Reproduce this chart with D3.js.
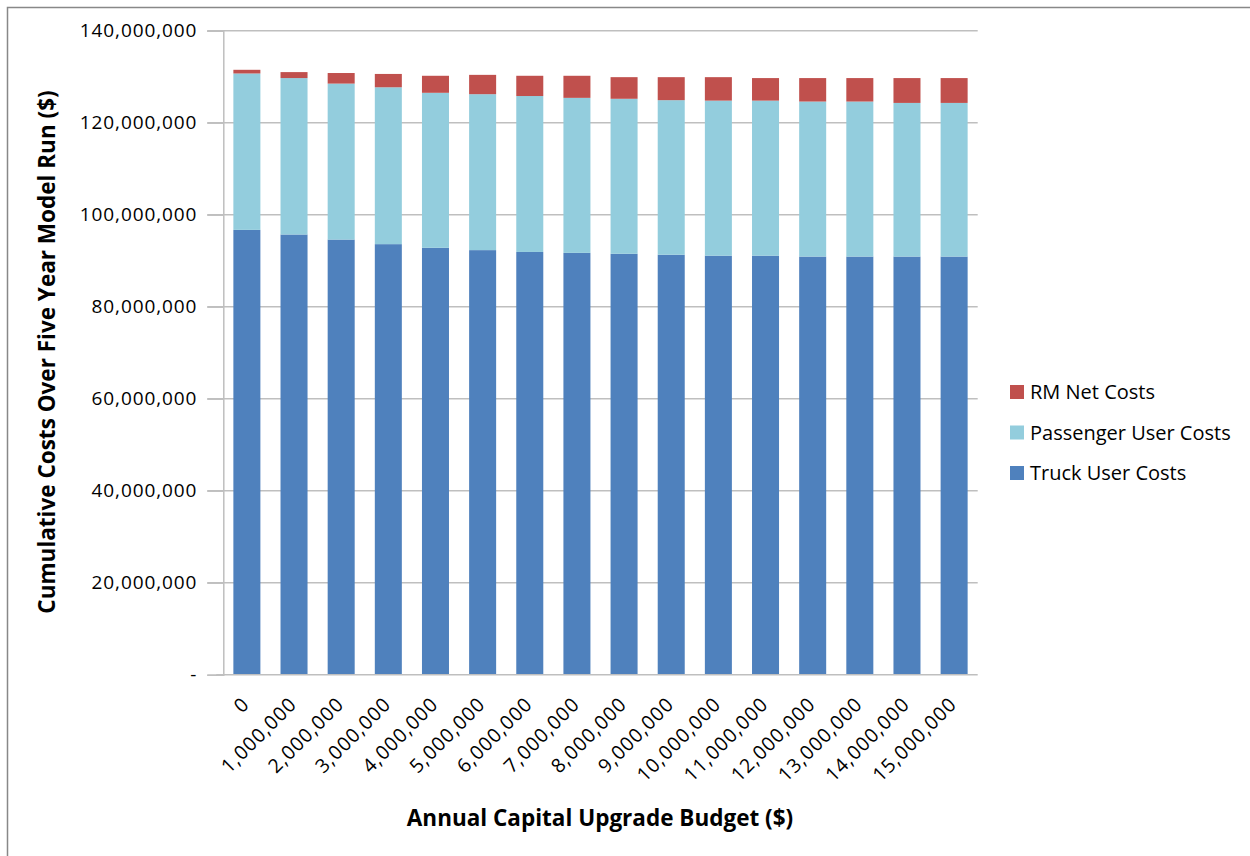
<!DOCTYPE html>
<html>
<head>
<meta charset="utf-8">
<script src="https://cdn.jsdelivr.net/npm/d3@7.9.0/dist/d3.min.js"></script>
<style>
  body { margin: 0; background: #fff; }
  text { font-family: "Open Sans", "Liberation Sans", sans-serif; fill: #000; }
</style>
</head>
<body>
<div id="chart"></div>
<script>
// Data (values in $ millions)
const budgets = [0, 1e6, 2e6, 3e6, 4e6, 5e6, 6e6, 7e6, 8e6, 9e6, 10e6, 11e6, 12e6, 13e6, 14e6, 15e6];
const truckCosts = [96.7, 95.7, 94.6, 93.6, 92.8, 92.3, 91.9, 91.7, 91.5, 91.3, 91.1, 91.1, 90.9, 90.9, 90.9, 90.9];
const passengerCosts = [34.0, 34.0, 33.9, 34.1, 33.7, 33.9, 33.9, 33.7, 33.7, 33.6, 33.7, 33.7, 33.7, 33.7, 33.4, 33.4];
const rmNetCosts = [0.8, 1.3, 2.3, 2.9, 3.7, 4.2, 4.4, 4.8, 4.7, 5.0, 5.1, 4.9, 5.1, 5.1, 5.4, 5.4];
const seriesNames = ["Truck User Costs", "Passenger User Costs", "RM Net Costs"];
const yTicks = [0, 20e6, 40e6, 60e6, 80e6, 100e6, 120e6, 140e6];

const colors = {
  "Truck User Costs": "#4f81bd",
  "Passenger User Costs": "#93cddd",
  "RM Net Costs": "#c0504d"
};

const width = 1250, height = 856;
const plot = { left: 223.3, right: 977.7, top: 30.7, bottom: 674.7 };

const svg = d3.select("#chart").append("svg")
  .attr("width", width)
  .attr("height", height);

// outer frame (top and left edges only visible)
svg.append("path")
  .attr("d", `M7.5,${height} V7.5 H${width}`)
  .attr("fill", "none")
  .attr("stroke", "#888")
  .attr("stroke-width", 1.5);

const rows = budgets.map((b, i) => ({
  budget: b,
  "Truck User Costs": truckCosts[i] * 1e6,
  "Passenger User Costs": passengerCosts[i] * 1e6,
  "RM Net Costs": rmNetCosts[i] * 1e6
}));

const x = d3.scaleBand()
  .domain(budgets)
  .range([plot.left, plot.right])
  .paddingInner(0.427)
  .paddingOuter(0.2135);

const y = d3.scaleLinear()
  .domain([0, 140e6])
  .range([plot.bottom, plot.top]);

const fmt = d3.format(",");

// gridlines
svg.append("g")
  .selectAll("line")
  .data(yTicks.filter(d => d > 0))
  .join("line")
  .attr("x1", plot.left - 16)
  .attr("x2", plot.right)
  .attr("y1", d => y(d))
  .attr("y2", d => y(d))
  .attr("stroke", "#bfbfbf")
  .attr("stroke-width", 1.5);

// y axis
const yAxis = d3.axisLeft(y)
  .tickValues(yTicks)
  .tickSize(16)
  .tickPadding(10)
  .tickFormat(d => d === 0 ? "-" : fmt(d));

const yg = svg.append("g")
  .attr("transform", `translate(${plot.left},0)`)
  .call(yAxis);
yg.select(".domain").attr("stroke", "#bfbfbf").attr("stroke-width", 1.5);
yg.selectAll(".tick line").attr("stroke", "#bfbfbf").attr("stroke-width", 1.5);
yg.selectAll(".tick text")
  .style("font-size", "19px")
  .style("letter-spacing", "0.9px")
  .attr("fill", "#000");
yg.selectAll(".tick").filter(d => d === 0).select("text").attr("x", -26);

// stacked bars
const stack = d3.stack().keys(seriesNames);
const layers = stack(rows);

svg.append("g")
  .selectAll("g")
  .data(layers)
  .join("g")
  .attr("fill", d => colors[d.key])
  .selectAll("rect")
  .data(d => d)
  .join("rect")
  .attr("x", d => x(d.data.budget))
  .attr("width", x.bandwidth())
  .attr("y", d => y(d[1]))
  .attr("height", d => y(d[0]) - y(d[1]));

// x axis baseline
svg.append("line")
  .attr("x1", plot.left - 7)
  .attr("x2", plot.right)
  .attr("y1", plot.bottom)
  .attr("y2", plot.bottom)
  .attr("stroke", "#bfbfbf")
  .attr("stroke-width", 1.5);

// x tick labels, rotated
svg.append("g")
  .selectAll("text")
  .data(budgets)
  .join("text")
  .attr("transform", d => `translate(${x(d) + x.bandwidth() / 2 - 1},${plot.bottom + 26}) rotate(-45)`)
  .attr("text-anchor", "end")
  .attr("dy", "0.35em")
  .style("font-size", "19.5px")
  .style("letter-spacing", "1px")
  .text(d => fmt(d));

// axis titles
svg.append("text")
  .attr("x", 600)
  .attr("y", 826)
  .attr("text-anchor", "middle")
  .style("font-size", "22.5px")
  .style("font-weight", "bold")
  .text("Annual Capital Upgrade Budget ($)");

svg.append("text")
  .attr("transform", `translate(55,352) rotate(-90)`)
  .attr("text-anchor", "middle")
  .style("font-size", "22.5px")
  .style("font-weight", "bold")
  .text("Cumulative Costs Over Five Year Model Run ($)");

// legend
const legendOrder = ["RM Net Costs", "Passenger User Costs", "Truck User Costs"];
const legend = svg.append("g")
  .selectAll("g")
  .data(legendOrder)
  .join("g")
  .attr("transform", (d, i) => `translate(1010,${392 + i * 40.5})`);

legend.append("rect")
  .attr("x", 0)
  .attr("y", -7)
  .attr("width", 14)
  .attr("height", 14)
  .attr("fill", d => colors[d]);

legend.append("text")
  .attr("x", 20)
  .attr("dy", "0.35em")
  .style("font-size", "20px")
  .text(d => d);
</script>
</body>
</html>
